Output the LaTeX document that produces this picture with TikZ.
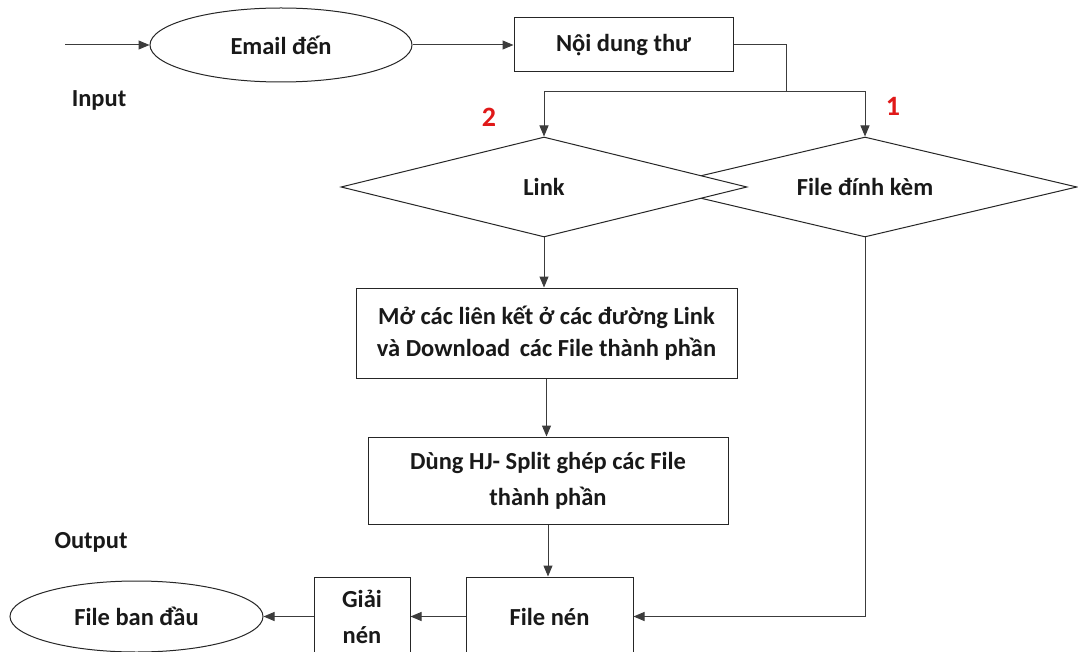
\documentclass[tikz,border=0pt]{standalone}
\usepackage{fontspec}
\setmainfont{Carlito}
\usetikzlibrary{shapes.geometric,arrows.meta}
\definecolor{numred}{RGB}{224,24,24}
\definecolor{ln}{RGB}{60,60,60}
\tikzset{
  base/.style={font=\fontsize{24.5}{36}\selectfont\bfseries, text=black!90, inner sep=0pt, align=center},
  shp/.style={base, draw=black!85, line width=1pt, fill=white},
  boxn/.style={shp, rectangle},
  ell/.style={shp, ellipse},
  dia/.style={shp, diamond},
  lbl/.style={base},
  num/.style={font=\fontsize{28}{30}\selectfont\bfseries, text=numred, inner sep=0pt},
  conn/.style={draw=ln, line width=1pt},
  arr/.style={conn, -{Triangle[length=11pt,width=9pt]}}
}
\begin{document}
\begin{tikzpicture}[x=1pt,y=-1pt]
\useasboundingbox (0,0) rectangle (1078,652);
\clip (0,0) rectangle (1078,652);
% top row
\node[ell, minimum width=262pt, minimum height=74pt] (email) at (281,45) {Email đến};
\node[boxn, minimum width=219pt, minimum height=54pt] (nd) at (623.5,45) {Nội dung thư};
\node[lbl] (inp) at (99,100) {Input};
\coordinate (in) at (65,45);
\coordinate (j) at (786,92);
% diamonds
\node[dia, aspect=4.24, minimum width=424pt, minimum height=100pt] (file) at (865,187) {File đính kèm};
\node[dia, aspect=4.06, minimum width=406pt, minimum height=100pt] (link) at (544,187) {Link};
\node[num] (n2) at (489,117) {2};
\node[num] (n1) at (893,106) {1};
% process boxes
\node[boxn, minimum width=381pt, minimum height=90pt, font=\fontsize{24.5}{32}\selectfont\bfseries] (b1) at (546.5,333) {Mở các liên kết ở các đường Link\\và Download\, các File thành phần};
\node[boxn, minimum width=360pt, minimum height=87pt] (b2) at (548,480.5) {Dùng HJ- Split ghép các File\\thành phần};
% bottom row
\node[boxn, minimum width=167pt, minimum height=79pt] (fn) at (549.5,616.5) {File nén};
\node[boxn, minimum width=96pt, minimum height=79pt] (gn) at (362,616.5) {Giải\\nén};
\node[ell, minimum width=253pt, minimum height=71pt] (fb) at (136.5,616.5) {File ban đầu};
\node[lbl] (outp) at (91,542) {Output};
% connectors
\draw[arr] (in) -- (email.west);
\draw[arr] (email.east) -- (nd.west);
\draw[conn] (nd.east) -| (j);
\draw[arr] (j) -| (link.north);
\draw[arr] (j) -| (file.north);
\draw[arr] (link.south) -- (link.south |- b1.north);
\draw[arr] (b1.south) -- (b1.south |- b2.north);
\draw[arr] (b2.south) -- (b2.south |- fn.north);
\draw[arr] (file.south) |- (fn.east);
\draw[arr] (fn.west) -- (gn.east);
\draw[arr] (gn.west) -- (fb.east);
\end{tikzpicture}
\end{document}
